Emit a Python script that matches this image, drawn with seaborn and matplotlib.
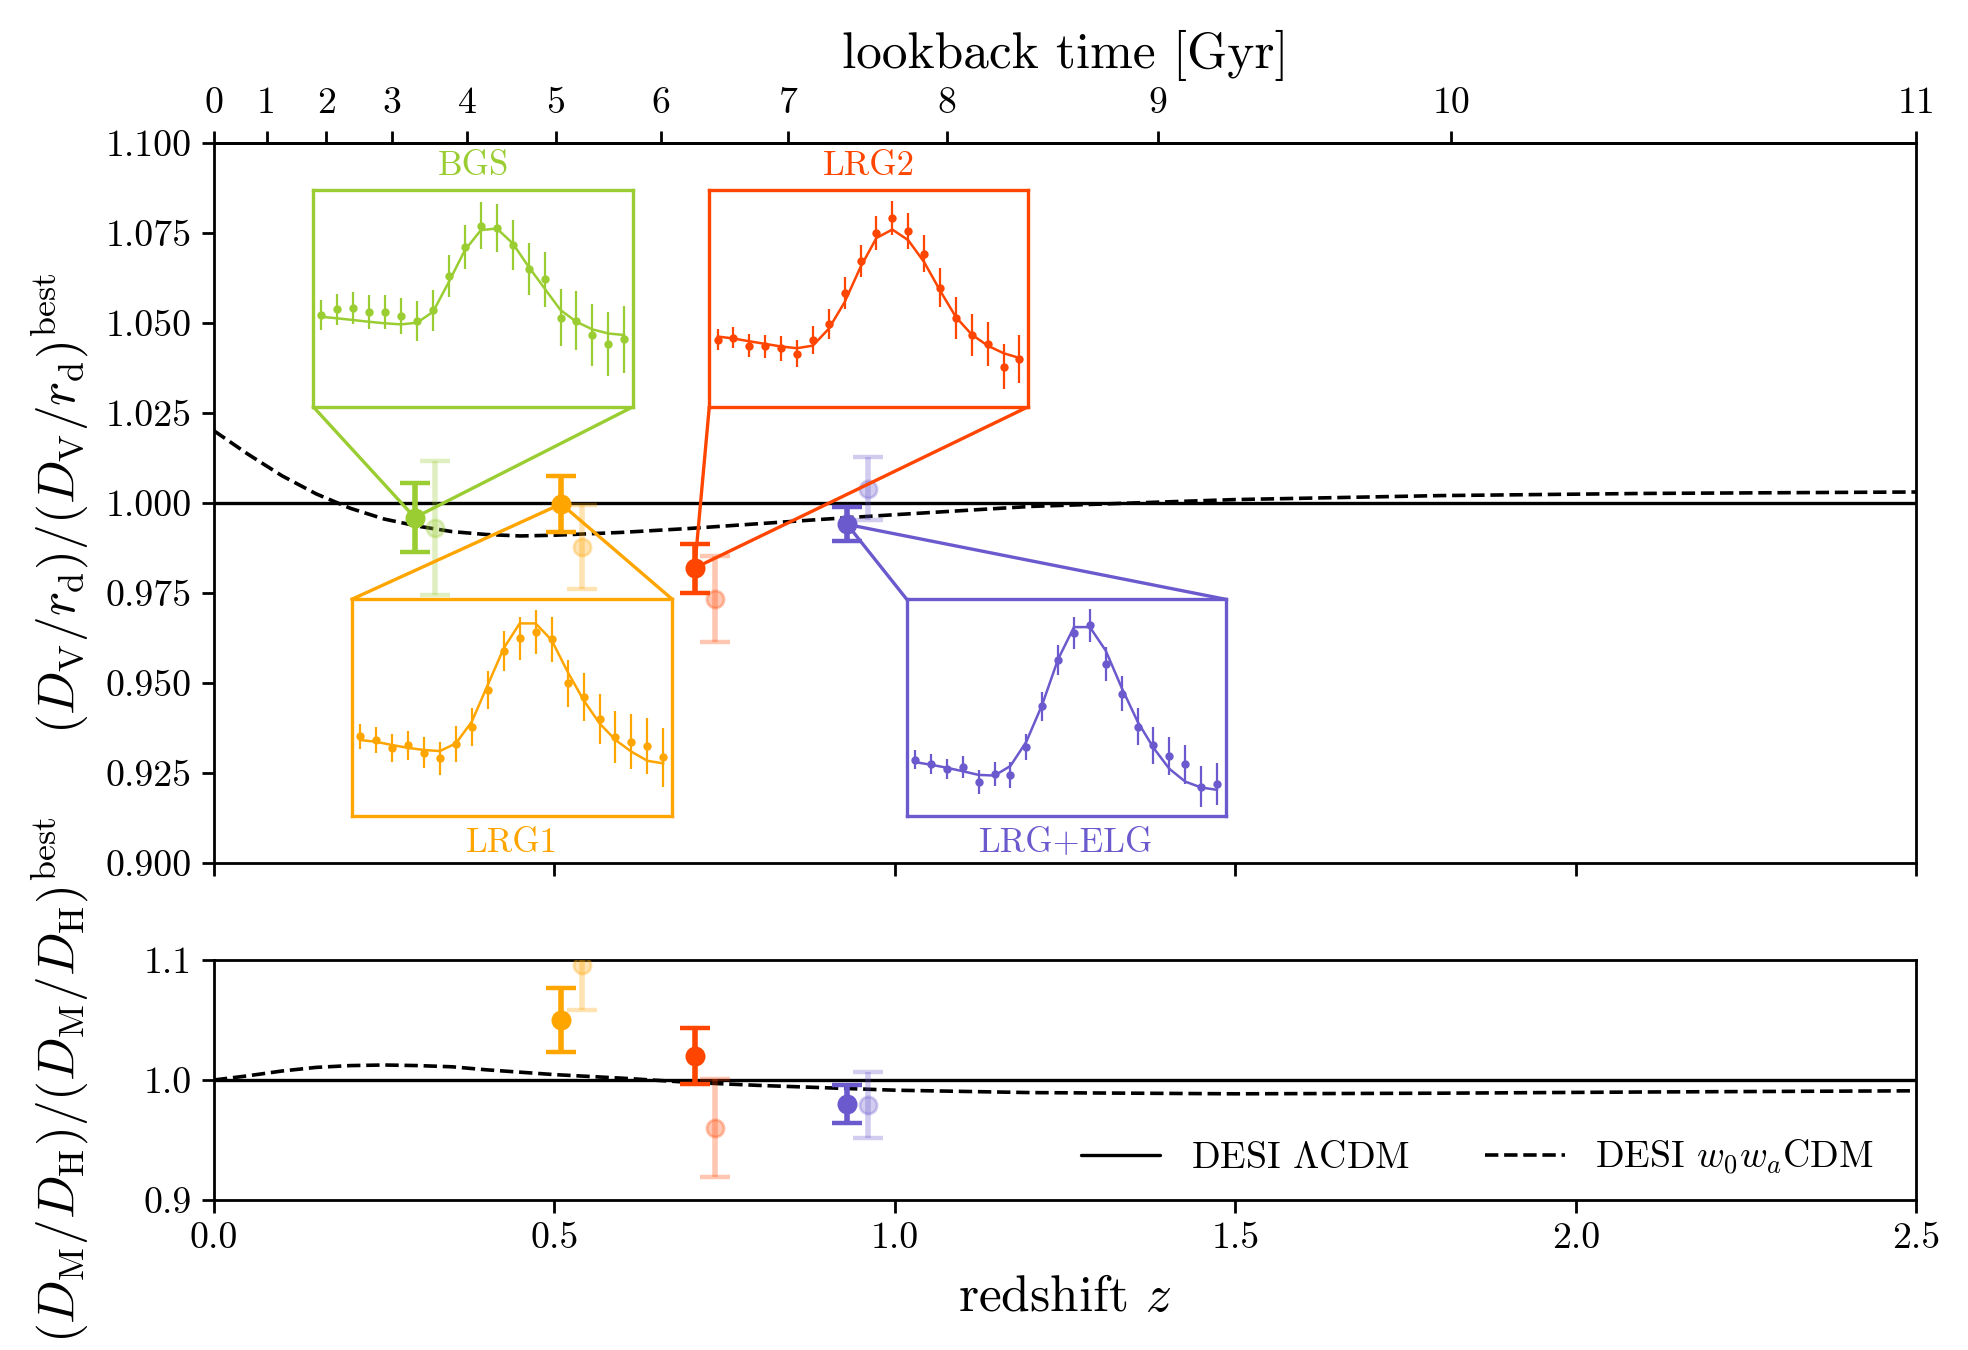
import numpy as np
import pandas as pd
import matplotlib
matplotlib.use("Agg")
import matplotlib.pyplot as plt
import seaborn as sns
from matplotlib.patches import ConnectionPatch

# ---------------- data ----------------
tracers = ["BGS", "LRG1", "LRG2", "LRG+ELG"]
colors = ["yellowgreen", "orange", "orangered", "slateblue"]
z_eff = [0.295, 0.510, 0.706, 0.930]
z_prev = [0.325, 0.540, 0.736, 0.960]

dv_ratio = [0.9959, 0.9997, 0.9819, 0.9940]
dv_err = [0.0095, 0.0077, 0.0068, 0.0047]
dv_prev = [0.9931, 0.9878, 0.9733, 1.0039]
dv_prev_err = [0.0186, 0.0116, 0.0119, 0.0087]

dmdh_tracers = ["LRG1", "LRG2", "LRG+ELG"]
dmdh_ratio = [1.050, 1.020, 0.980]
dmdh_err = [0.027, 0.023, 0.0157]
dmdh_prev = [1.096, 0.960, 0.979]
dmdh_prev_err = [0.0375, 0.041, 0.0276]

z_curve = [0.0, 0.05, 0.1, 0.15, 0.2, 0.25, 0.3, 0.35, 0.4, 0.45, 0.5,
           0.6, 0.7, 0.8, 0.9, 1.0, 1.2, 1.5, 1.8, 2.1, 2.5]
dv_w0wa = [1.0200, 1.0135, 1.0075, 1.0025, 0.9985, 0.9955, 0.9935, 0.9920,
           0.9912, 0.9908, 0.9910, 0.9918, 0.9929, 0.9942, 0.9955, 0.9967,
           0.9990, 1.0009, 1.0020, 1.0026, 1.0030]
dmdh_w0wa = [1.0000, 1.0035, 1.0075, 1.0105, 1.0120, 1.0125, 1.0120, 1.0110,
             1.0085, 1.0065, 1.0045, 1.0015, 0.9980, 0.9955, 0.9935, 0.9915,
             0.9895, 0.9885, 0.9890, 0.9900, 0.9910]
z_lcdm = [0.0, 2.5]
lcdm = [1.0, 1.0]

lookback_gyr = [0, 1, 2, 3, 4, 5, 6, 7, 8, 9, 10, 11]
lookback_z = [0.0, 0.0774, 0.165, 0.261, 0.372, 0.502, 0.656, 0.843,
              1.076, 1.386, 1.817, 2.5]

# BAO correlation-function insets (arbitrary units, 20 separation bins)
sep_bins = [0, 1, 2, 3, 4, 5, 6, 7, 8, 9, 10, 11, 12, 13, 14, 15, 16, 17, 18, 19]

bgs_xi = [0.423, 0.449, 0.454, 0.437, 0.437, 0.420, 0.397, 0.445, 0.603, 0.738,
          0.835, 0.823, 0.746, 0.634, 0.588, 0.411, 0.397, 0.331, 0.288, 0.311]
bgs_xi_err = [0.068, 0.071, 0.074, 0.077, 0.080, 0.083, 0.092, 0.095, 0.098, 0.102,
              0.108, 0.111, 0.114, 0.120, 0.126, 0.132, 0.135, 0.142, 0.148, 0.155]
bgs_model = [0.415, 0.408, 0.400, 0.392, 0.385, 0.380, 0.388, 0.438, 0.577, 0.723,
             0.815, 0.823, 0.754, 0.646, 0.546, 0.446, 0.392, 0.357, 0.338, 0.331]

lrg1_xi = [0.369, 0.351, 0.315, 0.326, 0.292, 0.266, 0.332, 0.412, 0.582, 0.762,
           0.820, 0.851, 0.815, 0.612, 0.551, 0.446, 0.363, 0.343, 0.323, 0.271]
lrg1_xi_err = [0.058, 0.062, 0.065, 0.068, 0.071, 0.077, 0.083, 0.088, 0.089, 0.092,
               0.100, 0.102, 0.105, 0.108, 0.111, 0.115, 0.120, 0.126, 0.131, 0.137]
lrg1_model = [0.351, 0.343, 0.328, 0.315, 0.305, 0.300, 0.335, 0.435, 0.605, 0.774,
              0.889, 0.889, 0.812, 0.666, 0.535, 0.428, 0.351, 0.297, 0.255, 0.243]

lrg2_xi = [0.309, 0.318, 0.282, 0.279, 0.270, 0.244, 0.306, 0.383, 0.526, 0.671,
           0.802, 0.872, 0.812, 0.707, 0.549, 0.409, 0.333, 0.290, 0.185, 0.221]
lrg2_xi_err = [0.048, 0.049, 0.052, 0.054, 0.057, 0.062, 0.065, 0.069, 0.073, 0.074,
               0.080, 0.080, 0.082, 0.085, 0.090, 0.096, 0.097, 0.100, 0.105, 0.111]
lrg2_model = [0.324, 0.315, 0.302, 0.290, 0.278, 0.270, 0.282, 0.360, 0.483, 0.645,
              0.779, 0.818, 0.769, 0.668, 0.537, 0.414, 0.333, 0.282, 0.247, 0.225]

elg_xi = [0.260, 0.241, 0.218, 0.226, 0.156, 0.195, 0.190, 0.319, 0.506, 0.720,
          0.844, 0.880, 0.701, 0.564, 0.413, 0.327, 0.277, 0.238, 0.136, 0.148]
elg_xi_err = [0.044, 0.045, 0.047, 0.050, 0.055, 0.056, 0.059, 0.062, 0.065, 0.069,
              0.073, 0.075, 0.078, 0.081, 0.084, 0.086, 0.089, 0.092, 0.095, 0.098]
elg_model = [0.249, 0.237, 0.223, 0.207, 0.190, 0.187, 0.231, 0.343, 0.514, 0.724,
             0.872, 0.872, 0.763, 0.592, 0.436, 0.315, 0.218, 0.159, 0.132, 0.121]

inset_xi = [bgs_xi, lrg1_xi, lrg2_xi, elg_xi]
inset_err = [bgs_xi_err, lrg1_xi_err, lrg2_xi_err, elg_xi_err]
inset_model = [bgs_model, lrg1_model, lrg2_model, elg_model]

# ---------------- style ----------------
sns.set_theme(style="ticks")
plt.rcParams.update({
    "font.family": "serif",
    "font.serif": ["cmr10", "DejaVu Serif"],
    "mathtext.fontset": "cm",
    "axes.formatter.use_mathtext": True,
    "axes.edgecolor": "black",
    "axes.labelcolor": "black",
    "text.color": "black",
    "xtick.color": "black",
    "ytick.color": "black",
    "axes.linewidth": 1.0,
    "xtick.major.width": 1.0,
    "ytick.major.width": 1.0,
    "xtick.major.size": 4.5,
    "ytick.major.size": 4.5,
    "xtick.labelsize": 13.6,
    "ytick.labelsize": 13.6,
})

fig = plt.figure(figsize=(9.84, 6.75), dpi=200)
ax1 = fig.add_axes([0.1087, 0.3607, 0.865, 0.5337])
ax2 = fig.add_axes([0.1087, 0.1111, 0.865, 0.1778])

# model lines
for ax, yw in [(ax1, dv_w0wa), (ax2, dmdh_w0wa)]:
    sns.lineplot(x=z_lcdm, y=lcdm, ax=ax, color="black", lw=1.2,
                 label=r"DESI $\Lambda$CDM", estimator=None, sort=False, zorder=2)
    sns.lineplot(x=z_curve, y=yw, ax=ax, color="black", lw=1.3, ls="--",
                 label=r"DESI $w_0w_a$CDM", estimator=None, sort=False, zorder=2)

eb = dict(fmt="o", ms=6.2, elinewidth=2.0, capsize=5.4, capthick=1.6)
for i, t in enumerate(tracers):
    ax1.errorbar(z_prev[i], dv_prev[i], yerr=dv_prev_err[i], color=colors[i],
                 alpha=0.3, zorder=3, **eb)
    ax1.errorbar(z_eff[i], dv_ratio[i], yerr=dv_err[i], color=colors[i],
                 zorder=7, **eb)
for j, t in enumerate(dmdh_tracers):
    c = colors[tracers.index(t)]
    zi = z_eff[tracers.index(t)]
    zp = z_prev[tracers.index(t)]
    ax2.errorbar(zp, dmdh_prev[j], yerr=dmdh_prev_err[j], color=c, alpha=0.3,
                 zorder=3, **eb)
    ax2.errorbar(zi, dmdh_ratio[j], yerr=dmdh_err[j], color=c, zorder=7, **eb)

# axes formatting
for ax in (ax1, ax2):
    ax.set_xlim(0, 2.5)
    ax.set_xticks([0.0, 0.5, 1.0, 1.5, 2.0, 2.5])
    for s in ax.spines.values():
        s.set_visible(True)
        s.set_color("black")
        s.set_linewidth(1.0)

ax1.set_ylim(0.9, 1.1)
yt1 = [0.900, 0.925, 0.950, 0.975, 1.000, 1.025, 1.050, 1.075, 1.100]
ax1.set_yticks(yt1, labels=[f"{v:.3f}" for v in yt1])
ax1.tick_params(axis="x", labelbottom=False, top=False)
ax2.set_ylim(0.9, 1.1)
ax2.set_yticks([0.9, 1.0, 1.1], labels=["0.9", "1.0", "1.1"])
ax2.set_xticks([0.0, 0.5, 1.0, 1.5, 2.0, 2.5],
               labels=["0.0", "0.5", "1.0", "1.5", "2.0", "2.5"])

ax1.set_ylabel(r"$(D_\mathrm{V}/r_\mathrm{d})/(D_\mathrm{V}/r_\mathrm{d})^\mathrm{best}$",
               fontsize=18.5)
ax2.set_ylabel(r"$(D_\mathrm{M}/D_\mathrm{H})/(D_\mathrm{M}/D_\mathrm{H})^\mathrm{best}$",
               fontsize=18.5)
ax1.yaxis.set_label_coords(-0.072, 0.5)
ax2.yaxis.set_label_coords(-0.072, 0.5)
ax2.set_xlabel(r"redshift $z$", fontsize=18.5, labelpad=7)

sec = ax1.secondary_xaxis("top")
sec.set_xticks(lookback_z, labels=[str(t) for t in lookback_gyr])
sec.set_xlabel("lookback time [Gyr]", fontsize=18.5, labelpad=7)
sec.tick_params(labelsize=13.6, length=4.5, width=1.0)

ax1.get_legend().remove()
ax2.legend(loc="lower right", bbox_to_anchor=(0.984, 0.033), ncol=2,
           frameon=False, fontsize=13.6, handlelength=2.1, columnspacing=2.0,
           borderaxespad=0.0)

# insets
inset_rect = {
    "BGS": [0.0583, 0.6334, 0.1880, 0.3006],
    "LRG2": [0.2910, 0.6334, 0.1874, 0.3006],
    "LRG1": [0.0809, 0.0652, 0.1884, 0.3008],
    "LRG+ELG": [0.4070, 0.0652, 0.1875, 0.3008],
}
for i, t in enumerate(tracers):
    c = colors[i]
    ins = ax1.inset_axes(inset_rect[t])
    ins.set_zorder(6)
    ins.set_facecolor("white")
    sns.lineplot(x=sep_bins, y=inset_model[i], ax=ins, color=c, lw=0.9,
                 estimator=None, sort=False)
    ins.errorbar(sep_bins, inset_xi[i], yerr=inset_err[i], fmt="o", ms=2.0,
                 color=c, elinewidth=0.8, capsize=0)
    ins.set_xlim(-0.52, 19.56)
    ins.set_ylim(0, 1)
    ins.set_xticks([])
    ins.set_yticks([])
    ins.set_xlabel("")
    ins.set_ylabel("")
    for s in ins.spines.values():
        s.set_visible(True)
        s.set_color(c)
        s.set_linewidth(1.2)
    top = t in ("BGS", "LRG2")
    ins.text(0.5, 1.11 if top else -0.125, t, transform=ins.transAxes,
             ha="center", va="center", color=c, fontsize=12.5)
    corners = [(0, 0), (1, 0)] if top else [(0, 1), (1, 1)]
    for cx, cy in corners:
        con = ConnectionPatch(xyA=(cx, cy), coordsA=ins.transAxes,
                              xyB=(z_eff[i], dv_ratio[i]), coordsB=ax1.transData,
                              color=c, lw=1.2, zorder=4)
        con.set_clip_on(False)
        ax1.add_artist(con)

fig.savefig("out.png", dpi=200)
